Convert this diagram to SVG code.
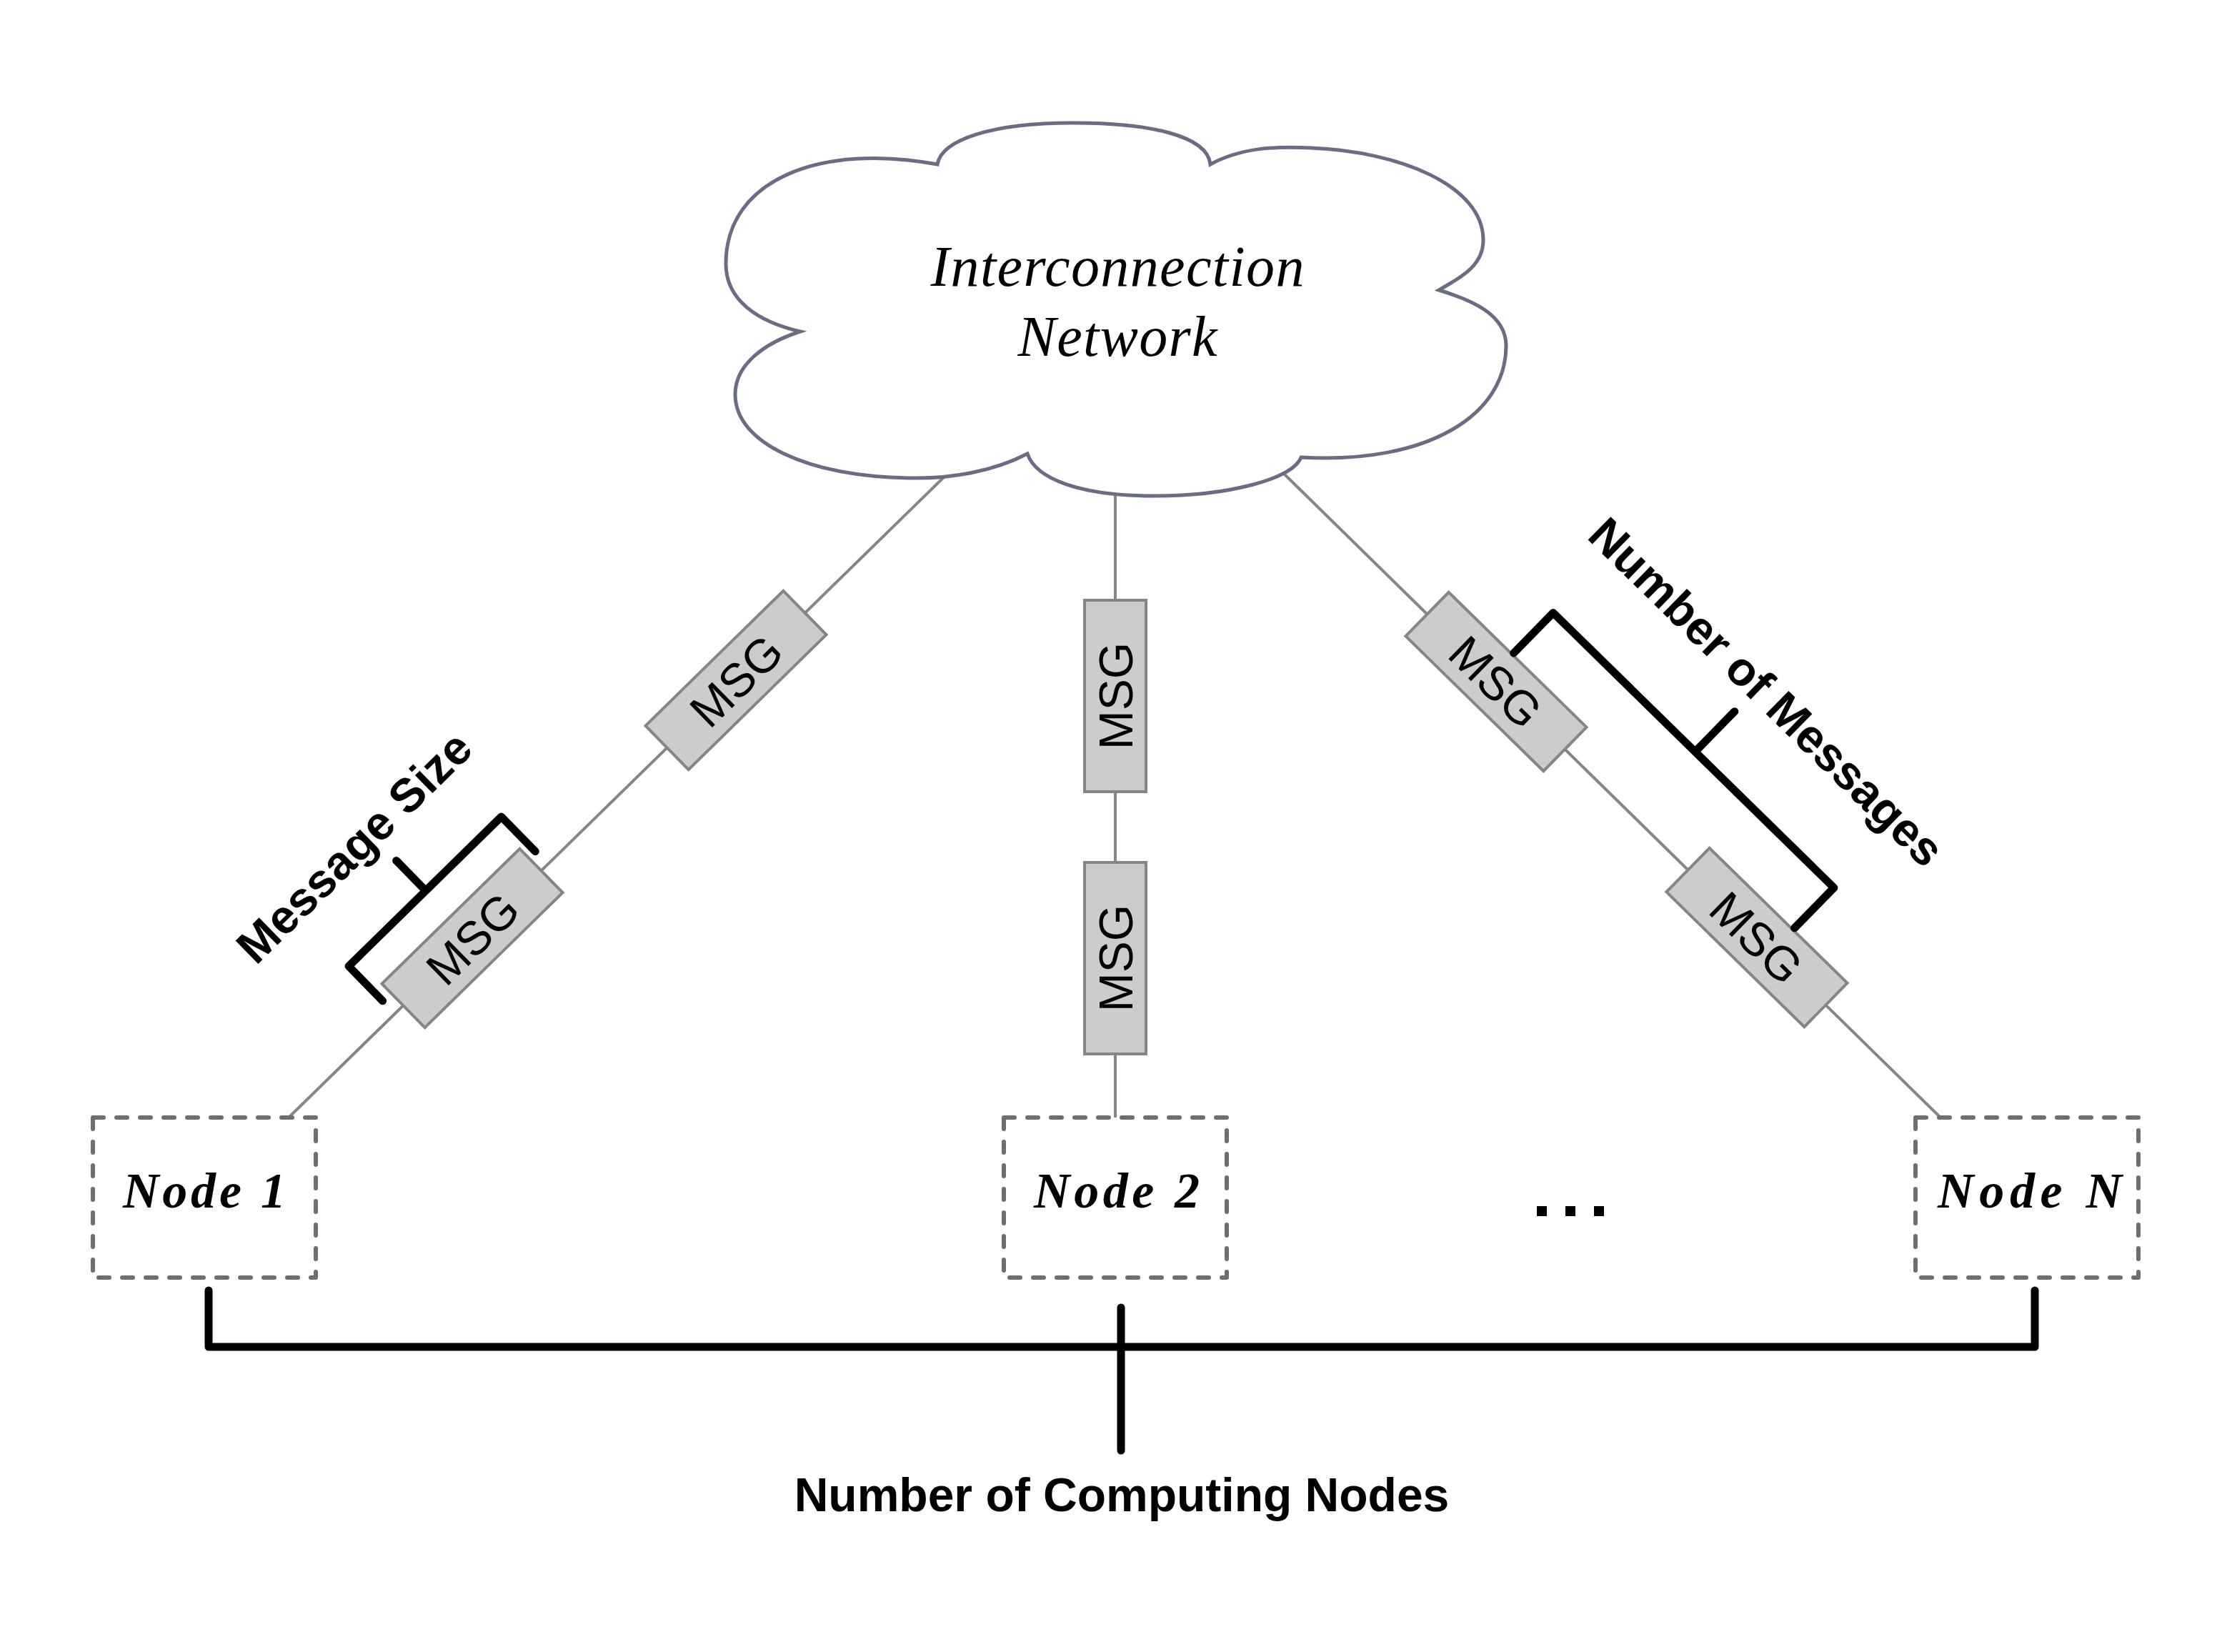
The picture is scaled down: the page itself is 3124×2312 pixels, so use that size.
<svg xmlns="http://www.w3.org/2000/svg" width="3124" height="2312" viewBox="0 0 3124 2312">
<style>
.wire{stroke:#858585;stroke-width:4;fill:none}
.msg{fill:#cccccc;stroke:#858585;stroke-width:4}
.msgt{font-family:"Liberation Sans",Arial,sans-serif;font-size:66px;fill:#000;text-anchor:middle}
.node{fill:#fff;stroke:#6e6e6e;stroke-width:6;stroke-dasharray:15 18;stroke-linecap:round;stroke-linejoin:round}
.nodet{font-family:"Liberation Serif","Times New Roman",serif;font-style:italic;font-weight:bold;font-size:70px;fill:#000;text-anchor:middle}
.br{stroke:#000;stroke-width:11;fill:none;stroke-linecap:round;stroke-linejoin:round}
.lbl{font-family:"Liberation Sans",Arial,sans-serif;font-weight:bold;fill:#000;text-anchor:middle}
.cloudt{font-family:"Liberation Serif","Times New Roman",serif;font-style:italic;font-size:80px;fill:#000;text-anchor:middle}
</style>
<rect width="3124" height="2312" fill="#fff"/>
<g id="connectors">
<line class="wire" x1="1324" y1="665" x2="404" y2="1564"/>
<line class="wire" x1="1561" y1="692" x2="1561" y2="1564"/>
<line class="wire" x1="1797" y1="663" x2="2716" y2="1564"/>
</g>
<g id="cloud">
<path fill="#fff" stroke="#686c84" stroke-width="5" stroke-linejoin="miter" d="M 1120,464 C 1060,450 1016,420 1016,369 C 1016,250 1150,200 1312,230 C 1318,195 1390,172 1501,172 C 1610,172 1690,190 1694,230 C 1740,205 1790,205 1835,207 C 1960,212 2076,260 2076,336 C 2076,370 2050,385 2014,406 C 2060,420 2108,440 2108,484 C 2108,580 2000,650 1821,640 C 1810,670 1720,694 1617,694 C 1510,694 1450,670 1438,635 C 1390,660 1330,670 1276,669 C 1130,667 1029,620 1029,552 C 1029,510 1070,480 1120,464 Z"/>
<text class="cloudt" x="1564" y="400" textLength="523" lengthAdjust="spacing">Interconnection</text>
<text class="cloudt" x="1564" y="498" textLength="279" lengthAdjust="spacing">Network</text>
</g>
<g id="msg-left-1" transform="translate(1030,952) rotate(-44.4)">
<rect class="msg" x="-135" y="-43" width="270" height="86"/>
<text class="msgt" x="0" y="24">MSG</text>
</g>
<g id="msg-left-2" transform="translate(661,1313) rotate(-44.4)">
<rect class="msg" x="-135" y="-43" width="270" height="86"/>
<text class="msgt" x="0" y="24">MSG</text>
</g>
<g id="msg-center-1" transform="translate(1561,974) rotate(-90)">
<rect class="msg" x="-134" y="-43" width="268" height="86"/>
<text class="msgt" x="0" y="24">MSG</text>
</g>
<g id="msg-center-2" transform="translate(1561,1341) rotate(-90)">
<rect class="msg" x="-134" y="-43" width="268" height="86"/>
<text class="msgt" x="0" y="24">MSG</text>
</g>
<g id="msg-right-1" transform="translate(2094,954) rotate(44.4)">
<rect class="msg" x="-135" y="-43" width="270" height="86"/>
<text class="msgt" x="0" y="24">MSG</text>
</g>
<g id="msg-right-2" transform="translate(2459,1312) rotate(44.4)">
<rect class="msg" x="-135" y="-43" width="270" height="86"/>
<text class="msgt" x="0" y="24">MSG</text>
</g>
<g id="node-1">
<rect class="node" x="130" y="1564" width="312" height="224"/>
<text class="nodet" x="286" y="1690" textLength="228" lengthAdjust="spacing">Node 1</text>
</g>
<g id="node-2">
<rect class="node" x="1405" y="1564" width="312" height="224"/>
<text class="nodet" x="1563" y="1690" textLength="232" lengthAdjust="spacing">Node 2</text>
</g>
<g id="node-n">
<rect class="node" x="2681" y="1564" width="312" height="224"/>
<text class="nodet" x="2841" y="1690" textLength="258" lengthAdjust="spacing">Node N</text>
</g>
<g id="ellipsis" fill="#000">
<rect x="2151" y="1688" width="14" height="14"/>
<rect x="2191" y="1688" width="14" height="14"/>
<rect x="2231" y="1688" width="14" height="14"/>
</g>
<g id="message-size" transform="translate(661,1313) rotate(-44.4)">
<path class="br" d="M -151,-25 L -151,-93 L 148,-93 L 148,-25 M 0,-93 L 0,-152"/>
<text class="lbl" x="-29" y="-184" font-size="66">Message Size</text>
</g>
<g id="number-of-messages" transform="translate(2276.5,1133) rotate(44.4)">
<path class="br" d="M -266,-46 L -266,-125 L 284,-125 L 284,-46 M 12,-125 L 12,-204"/>
<text class="lbl" x="25" y="-232" font-size="66">Number of Messages</text>
</g>
<g id="number-of-computing-nodes">
<path class="br" d="M 292,1806 L 292,1885 L 2848,1885 L 2848,1806"/>
<path class="br" d="M 1569,1830 L 1569,2030"/>
<text class="lbl" x="1570" y="2115" font-size="66">Number of Computing Nodes</text>
</g>
</svg>
